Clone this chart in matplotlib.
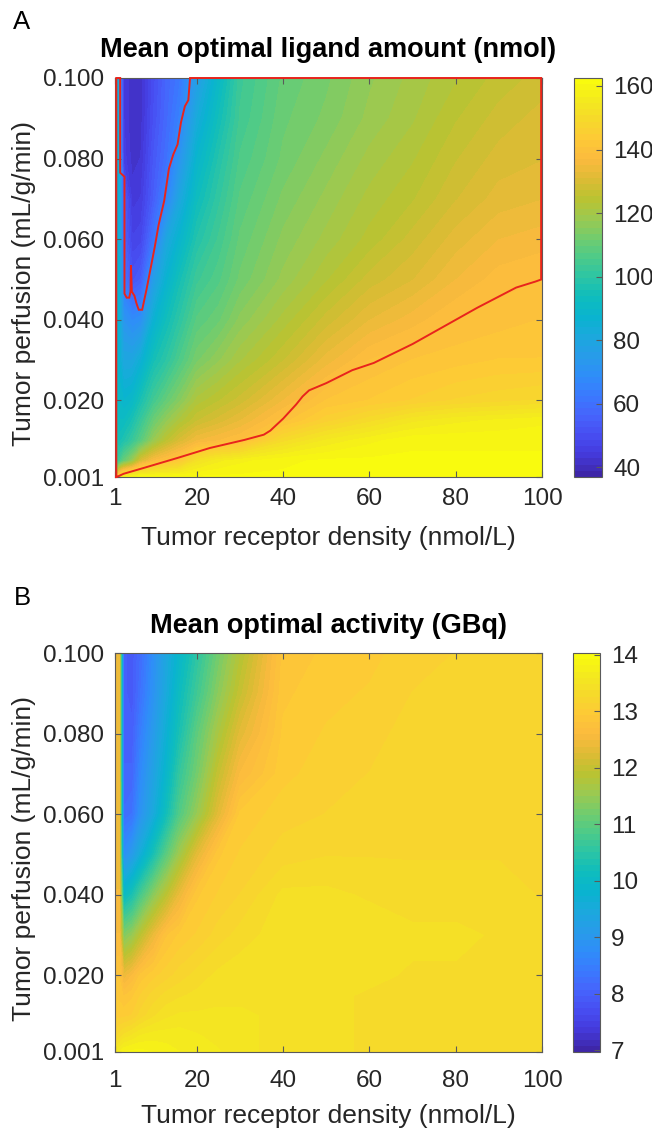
import numpy as np
import matplotlib
matplotlib.use("Agg")
import matplotlib.pyplot as plt
from matplotlib.colors import LinearSegmentedColormap, Normalize
from matplotlib.cm import ScalarMappable

plt.rcParams['font.family'] = ['Liberation Sans', 'DejaVu Sans']

# ---------------- data ----------------
receptor = [1, 2, 3, 5, 7, 10, 13, 16, 20, 25, 30, 40, 50, 60, 70, 80, 90, 100]
perfusion = [0.001, 0.005, 0.01, 0.015, 0.02, 0.03, 0.04, 0.05, 0.06, 0.07, 0.08, 0.09, 0.1]

# Panel A: mean optimal ligand amount (nmol), rows follow `perfusion`
ligand = [
    [120, 150, 158, 160, 161, 161, 161, 161, 161, 161, 161, 161, 161, 161, 161, 161, 161, 161],
    [102, 104, 110, 118, 130, 137, 140, 143, 152, 156, 158, 160, 161, 161, 161, 161, 161, 161],
    [98, 95, 97, 102, 108, 118, 125, 130, 135, 137, 139, 150, 155, 158, 160, 160, 160, 160],
    [96, 92, 92, 96, 102, 111, 117, 122, 127, 130, 133, 140, 146, 150, 154, 156, 157, 158],
    [94, 90, 88, 90, 96, 104, 110, 115, 122, 125, 128, 135, 141, 143, 145, 147, 148, 149],
    [93, 86, 80, 80, 85, 95, 100, 106, 113, 117, 121, 127, 134, 139, 141, 142, 143, 143],
    [92, 84, 72, 68, 70, 86, 94, 100, 108, 111, 116, 122, 128, 133, 136, 139, 140, 141],
    [92, 84, 62, 52, 55, 76, 87, 95, 103, 107, 112, 118, 123, 128, 131, 135, 138, 139],
    [92, 83, 57, 47, 48, 62, 80, 88, 98, 104, 110, 116, 120, 124, 128, 132, 135, 136],
    [92, 82, 55, 44, 45, 55, 66, 80, 93, 101, 108, 114, 118, 122, 125, 129, 132, 133],
    [92, 80, 46, 42, 43, 53, 60, 72, 88, 98, 106, 112, 116, 120, 123, 127, 130, 131],
    [92, 78, 45, 41, 42, 51, 58, 65, 82, 94, 104, 111, 114, 118, 121, 125, 128, 130],
    [92, 75, 45, 41, 42, 50, 57, 62, 76, 90, 103, 110, 113, 117, 120, 123, 126, 128],
]

# Panel B: mean optimal activity (GBq), rows follow `perfusion`
activity = [
    [13.5, 13.7, 13.8, 13.85, 13.85, 13.8, 13.75, 13.7, 13.65, 13.6, 13.5, 13.45, 13.4, 13.35, 13.3, 13.3, 13.3, 13.3],
    [13.2, 13.3, 13.4, 13.5, 13.6, 13.65, 13.65, 13.65, 13.6, 13.55, 13.5, 13.45, 13.4, 13.35, 13.3, 13.3, 13.3, 13.3],
    [13.0, 13.0, 13.0, 13.05, 13.2, 13.35, 13.45, 13.5, 13.5, 13.5, 13.5, 13.45, 13.4, 13.35, 13.3, 13.3, 13.3, 13.3],
    [12.9, 12.9, 12.8, 12.9, 13.05, 13.2, 13.3, 13.35, 13.4, 13.45, 13.45, 13.45, 13.4, 13.35, 13.35, 13.3, 13.3, 13.3],
    [12.8, 12.8, 12.4, 12.6, 12.85, 13.0, 13.1, 13.2, 13.3, 13.4, 13.45, 13.45, 13.45, 13.4, 13.35, 13.35, 13.3, 13.3],
    [12.6, 12.6, 11.3, 11.5, 11.9, 12.4, 12.8, 12.95, 13.05, 13.2, 13.3, 13.45, 13.45, 13.45, 13.4, 13.4, 13.35, 13.3],
    [12.5, 12.5, 10.0, 10.3, 10.8, 11.4, 11.9, 12.4, 12.9, 13.05, 13.15, 13.4, 13.4, 13.35, 13.3, 13.3, 13.3, 13.25],
    [12.4, 12.4, 8.8, 9.1, 9.6, 10.3, 11.0, 11.6, 12.3, 12.9, 13.05, 13.2, 13.25, 13.25, 13.25, 13.25, 13.25, 13.25],
    [12.4, 12.4, 8.2, 8.3, 8.9, 9.5, 10.2, 10.9, 11.5, 12.3, 12.95, 13.1, 13.15, 13.2, 13.2, 13.25, 13.25, 13.2],
    [12.4, 12.4, 8.1, 8.1, 8.7, 9.3, 9.9, 10.6, 11.2, 12.0, 12.6, 13.0, 13.1, 13.15, 13.2, 13.2, 13.25, 13.2],
    [12.4, 12.4, 8.0, 8.0, 8.5, 9.1, 9.7, 10.3, 11.0, 11.7, 12.3, 12.95, 13.05, 13.1, 13.2, 13.2, 13.2, 13.2],
    [12.4, 12.4, 8.0, 7.9, 8.3, 8.9, 9.5, 10.1, 10.7, 11.4, 12.0, 12.9, 13.0, 13.05, 13.15, 13.2, 13.2, 13.2],
    [12.4, 12.4, 8.0, 7.9, 8.2, 8.8, 9.4, 9.9, 10.5, 11.2, 11.8, 12.85, 12.95, 13.0, 13.1, 13.15, 13.2, 13.2],
]

# red region boundary in panel A (receptor density, perfusion)
region_x = [1.3, 1.3, 2.2, 2.2, 3.2, 3.2, 3.7, 4.3, 4.6, 4.7, 4.9, 5.5, 6.0, 6.5, 7.3, 7.6, 8.3,
            9.3, 10.2, 11.1, 12.4, 13.5, 14.5, 15.5, 16.3, 17.2, 18.0, 18.4, 99.8, 99.8,
            98.5, 94, 85, 80, 70, 61, 56, 50, 46, 44.5, 43, 40, 37, 35.5, 31, 23, 15.4, 7.5,
            3, 1.8, 1.3]
region_y = [0.001, 0.1, 0.1, 0.0765, 0.0755, 0.0465, 0.0455, 0.0455, 0.047, 0.0535, 0.047,
            0.046, 0.044, 0.0425, 0.0425, 0.044, 0.0475, 0.053, 0.058, 0.0635, 0.0695, 0.0775,
            0.081, 0.0835, 0.089, 0.093, 0.0945, 0.1, 0.1, 0.050,
            0.0495, 0.048, 0.043, 0.040, 0.034, 0.0293, 0.0275, 0.0243, 0.0225, 0.021, 0.019,
            0.0155, 0.0125, 0.0115, 0.0102, 0.0082, 0.0057, 0.0032, 0.0018, 0.0012, 0.001]

x_ticks = [1, 20, 40, 60, 80, 100]
y_ticks = [0.001, 0.02, 0.04, 0.06, 0.08, 0.1]
y_ticklabels = ['0.001', '0.020', '0.040', '0.060', '0.080', '0.100']
cb_ticks_a = [40, 60, 80, 100, 120, 140, 160]
cb_ticks_b = [7, 8, 9, 10, 11, 12, 13, 14]
clim_a = (37, 162.5)
clim_b = (6.97, 14.03)

# ---------------- style ----------------
parula_anchors = [
    (0.00, (0.2422, 0.1504, 0.6603)), (0.05, (0.2681, 0.2266, 0.8625)),
    (0.10, (0.2798, 0.3058, 0.9489)), (0.15, (0.2740, 0.3915, 0.9883)),
    (0.20, (0.2283, 0.4782, 0.9970)), (0.25, (0.1822, 0.5549, 0.9729)),
    (0.30, (0.1551, 0.6108, 0.9140)), (0.35, (0.1073, 0.6594, 0.8657)),
    (0.40, (0.0365, 0.7030, 0.8120)), (0.45, (0.0562, 0.7399, 0.7400)),
    (0.50, (0.1692, 0.7717, 0.6467)), (0.55, (0.2960, 0.7937, 0.5409)),
    (0.60, (0.4451, 0.8022, 0.4293)), (0.65, (0.6110, 0.7900, 0.3150)),
    (0.70, (0.7300, 0.7650, 0.1950)), (0.75, (0.8650, 0.7350, 0.2050)),
    (0.80, (0.9850, 0.7300, 0.2450)), (0.85, (0.9950, 0.7850, 0.2150)),
    (0.90, (0.9650, 0.8500, 0.1700)), (0.95, (0.9560, 0.9150, 0.1200)),
    (1.00, (0.9763, 0.9831, 0.0538)),
]
parula = LinearSegmentedColormap.from_list('parula', parula_anchors, N=64)

W, H = 652, 1134
fig = plt.figure(figsize=(W / 100, H / 100), dpi=100)

def fx(px):
    return px / W

def fy(py):
    return 1 - py / H

axis_col = '#5a5a5a'
text_col = '#262626'
TICK_FS = 17.5
LAB_FS = 19
TITLE_FS = 19.5

def panel(top, cb_left, cb_right, values, clim, cb_ticks, title, title_y, letter, letter_y,
          xlabel_y, xtick_pad, region=False):
    left, right, bottom = 115, 542, top + 399
    ax = fig.add_axes([fx(left), fy(bottom), fx(right - left), (bottom - top) / H])
    X, Y = np.meshgrid(receptor, perfusion)
    Z = np.array(values, dtype=float)
    levels = np.linspace(clim[0], clim[1], 65)
    ax.contourf(X, Y, Z, levels=levels, cmap=parula, extend='both')
    if region:
        ax.plot(region_x, region_y, color='#e8241c', lw=1.4, clip_on=False, zorder=3,
                solid_joinstyle='miter')
    ax.set_xlim(1, 100)
    ax.set_ylim(0.001, 0.1)
    ax.set_xticks(x_ticks)
    ax.set_yticks(y_ticks)
    ax.set_yticklabels(y_ticklabels)
    ax.tick_params(direction='in', length=4, width=0.8, top=True, right=True,
                   color=axis_col, labelcolor=text_col, labelsize=TICK_FS)
    ax.tick_params(axis='x', pad=xtick_pad)
    ax.tick_params(axis='y', pad=8)
    for sp in ax.spines.values():
        sp.set_color(axis_col)
        sp.set_linewidth(0.8)
    # colorbar
    cax = fig.add_axes([fx(cb_left), fy(bottom), fx(cb_right - cb_left), (bottom - top) / H])
    sm = ScalarMappable(norm=Normalize(*clim), cmap=parula)
    cb = fig.colorbar(sm, cax=cax, ticks=cb_ticks)
    cb.outline.set_edgecolor(axis_col)
    cb.outline.set_linewidth(0.8)
    cax.tick_params(direction='in', length=4, width=0.8, color=axis_col,
                    labelcolor=text_col, labelsize=TICK_FS, pad=8)
    # texts
    fig.text(fx((left + right) / 2), fy(title_y), title, ha='center', va='center',
             fontsize=TITLE_FS, fontweight='bold', color='black')
    fig.text(fx(22), fy(letter_y), letter, ha='center', va='center', fontsize=18.5, color='black')
    fig.text(fx((left + right) / 2), fy(xlabel_y), 'Tumor receptor density (nmol/L)',
             ha='center', va='center', fontsize=LAB_FS, color=text_col)
    fig.text(fx(24), fy((top + bottom) / 2 + 6), 'Tumor perfusion (mL/g/min)',
             ha='center', va='center', rotation=90, fontsize=LAB_FS, color=text_col)
    return ax

panel(78, 574, 602, ligand, clim_a, cb_ticks_a, 'Mean optimal ligand amount (nmol)', 50,
      'A', 22, 538, 8, region=True)
panel(653, 573, 600, activity, clim_b, cb_ticks_b, 'Mean optimal activity (GBq)', 626,
      'B', 598, 1116, 13)

fig.savefig('out.png', dpi=100)
